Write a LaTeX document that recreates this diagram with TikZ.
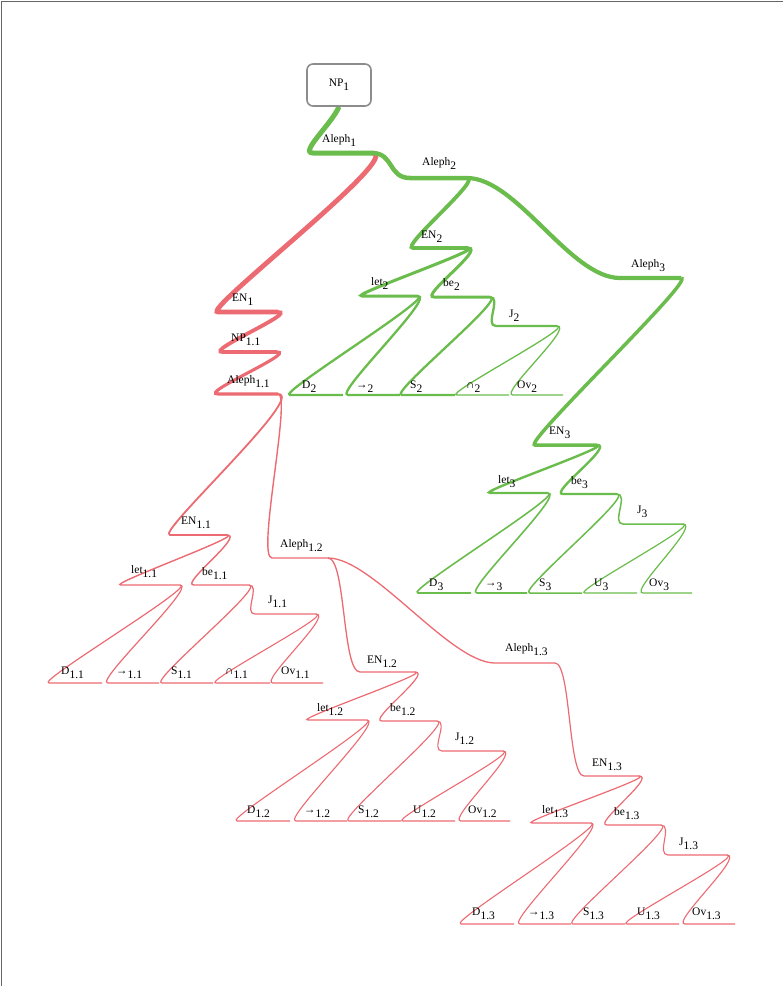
\documentclass[tikz,border=0pt]{standalone}
\usepackage{fontspec}
\setmainfont{Liberation Serif}
\usetikzlibrary{calc}
\pgfdeclarelayer{lines}
\pgfsetlayers{lines,main}
\definecolor{mgreen}{RGB}{106,188,76}
\definecolor{mred}{RGB}{236,106,114}
\definecolor{mframe}{RGB}{140,140,140}
\newcommand{\sbs}[1]{\raisebox{-4pt}{#1}}
\newcommand{\mnode}[7]{\coordinate (#1l) at (#2,#4);\coordinate (#1r) at (#3,#4);\node[lbl] (#1) at (#5,#6) {#7};}
\newcommand{\mlink}[5]{\draw[#1] (#2r) to[out=0,in=180,out distance=#4pt,in distance=#5pt] (#3l) -- (#3r);}
\begin{document}
\begin{tikzpicture}[x=1pt,y=-1pt,line cap=round,line join=round,
  lbl/.style={anchor=base west,inner sep=0pt,font=\fontsize{11.5}{13}\selectfont,text=black},
  gw/.style={draw=mgreen,line width=#1pt},
  rw/.style={draw=mred,line width=#1pt}]
\useasboundingbox (0,0) rectangle (783,986);
\draw[black!60,line width=1pt] (1.5,986) -- (1.5,1.5) -- (783,1.5);

% root
\node[draw=mframe,fill=white,line width=1.6pt,rounded corners=6pt,minimum width=64pt,minimum height=42pt,inner sep=0pt,font=\fontsize{11.5}{13}\selectfont,text=black] (np1) at (339,85) {NP\sbs{1}\hspace{14pt}};

% green nodes
\mnode{a1}{313}{372}{153}{322}{142}{Aleph\sbs{1}}
\mnode{a2}{410}{467}{178}{422}{165}{Aleph\sbs{2}}
\mnode{en2}{413}{468}{248}{421}{238}{EN\sbs{2}}
\mnode{a3}{620}{681}{278}{631}{267}{Aleph\sbs{3}}
\mnode{let2}{362}{418}{296}{371}{285}{let\sbs{2}}
\mnode{be2}{434}{490}{297}{443}{286}{be\sbs{2}}
\mnode{d2}{290}{343}{395}{302}{388}{D\sbs{2}}
\mnode{ar2}{348}{400}{395}{356}{388}{→\sbs{2}}
\mnode{s2}{402}{455}{395}{410}{388}{S\sbs{2}}
\mnode{j2}{496}{557}{326}{509}{317}{J\sbs{2}}
\mnode{ca2}{457}{509}{395}{466}{388}{∩\sbs{2}}
\mnode{ov2}{513}{563}{395}{517}{388}{Ov\sbs{2}}
\mnode{en3}{535}{597}{445}{549}{434}{EN\sbs{3}}
\mnode{let3}{490}{548}{493}{498}{483}{let\sbs{3}}
\mnode{be3}{563}{617}{494}{571}{484}{be\sbs{3}}
\mnode{j3}{623}{683}{524}{637}{513}{J\sbs{3}}
\mnode{d3}{418}{471}{593}{429}{586}{D\sbs{3}}
\mnode{ar3}{477}{527}{593}{485}{586}{→\sbs{3}}
\mnode{s3}{530}{582}{593}{539}{586}{S\sbs{3}}
\mnode{u3}{585}{637}{593}{594}{586}{U\sbs{3}}
\mnode{ov3}{643}{692}{593}{649}{586}{Ov\sbs{3}}

% red nodes
\mnode{en1}{218}{278}{312}{232}{301}{EN\sbs{1}}
\mnode{np11}{223}{277}{352}{231}{341}{NP\sbs{1.1}}
\mnode{a11}{218}{278}{394}{227}{383}{Aleph\sbs{1.1}}
\mnode{en11}{170}{227}{535}{181}{524}{EN\sbs{1.1}}
\mnode{a12}{272}{328}{558}{280}{547}{Aleph\sbs{1.2}}
\mnode{let11}{121}{180}{585}{131}{573}{let\sbs{1.1}}
\mnode{be11}{194}{249}{585}{202}{575}{be\sbs{1.1}}
\mnode{j11}{255}{316}{614}{268}{603}{J\sbs{1.1}}
\mnode{d11}{49}{102}{683}{61}{674}{D\sbs{1.1}}
\mnode{ar11}{108}{159}{683}{116}{674}{→\sbs{1.1}}
\mnode{s11}{162}{213}{683}{171}{674}{S\sbs{1.1}}
\mnode{ca11}{216}{270}{683}{225}{674}{∩\sbs{1.1}}
\mnode{ov11}{273}{323}{683}{281}{674}{Ov\sbs{1.1}}
\mnode{en12}{360}{415}{672}{367}{663}{EN\sbs{1.2}}
\mnode{let12}{308}{367}{720}{317}{711}{let\sbs{1.2}}
\mnode{be12}{382}{437}{721}{390}{711}{be\sbs{1.2}}
\mnode{j12}{442}{503}{751}{455}{740}{J\sbs{1.2}}
\mnode{d12}{237}{290}{821}{247}{813}{D\sbs{1.2}}
\mnode{ar12}{296}{347}{821}{304}{813}{→\sbs{1.2}}
\mnode{s12}{349}{401}{821}{358}{813}{S\sbs{1.2}}
\mnode{u12}{403}{455}{821}{413}{813}{U\sbs{1.2}}
\mnode{ov12}{461}{510}{821}{468}{813}{Ov\sbs{1.2}}
\mnode{a13}{495}{555}{663}{505}{651}{Aleph\sbs{1.3}}
\mnode{en13}{584}{639}{776}{592}{766}{EN\sbs{1.3}}
\mnode{let13}{532}{591}{823}{542}{813}{let\sbs{1.3}}
\mnode{be13}{607}{661}{825}{614}{815}{be\sbs{1.3}}
\mnode{j13}{668}{727}{855}{679}{845}{J\sbs{1.3}}
\mnode{d13}{461}{514}{924}{472}{915}{D\sbs{1.3}}
\mnode{ar13}{520}{571}{924}{528}{915}{→\sbs{1.3}}
\mnode{s13}{573}{625}{924}{583}{915}{S\sbs{1.3}}
\mnode{u13}{627}{679}{924}{637}{915}{U\sbs{1.3}}
\mnode{ov13}{685}{735}{924}{692}{915}{Ov\sbs{1.3}}

\begin{pgfonlayer}{lines}
% red connectors
\mlink{rw=4.8}{a1}{en1}{35}{18}
\mlink{rw=3.8}{en1}{np11}{20}{20}
\mlink{rw=3.1}{np11}{a11}{20}{20}
\mlink{rw=1.8}{a11}{en11}{30}{16}
\mlink{rw=1.4}{a11}{a12}{14}{16}
\mlink{rw=1.4}{en11}{let11}{18}{15}
\mlink{rw=1.4}{en11}{be11}{18}{15}
\mlink{rw=1.2}{let11}{d11}{18}{15}
\mlink{rw=1.2}{let11}{ar11}{18}{15}
\mlink{rw=1.2}{be11}{s11}{18}{15}
\mlink{rw=1.2}{be11}{j11}{12}{12}
\mlink{rw=1.1}{j11}{ca11}{18}{15}
\mlink{rw=1.1}{j11}{ov11}{18}{15}
\mlink{rw=1.3}{a12}{en12}{18}{18}
\mlink{rw=1.3}{a12}{a13}{45}{45}
\mlink{rw=1.2}{en12}{let12}{18}{15}
\mlink{rw=1.2}{en12}{be12}{18}{15}
\mlink{rw=1.1}{let12}{d12}{18}{15}
\mlink{rw=1.1}{let12}{ar12}{18}{15}
\mlink{rw=1.1}{be12}{s12}{18}{15}
\mlink{rw=1.1}{be12}{j12}{12}{12}
\mlink{rw=1.1}{j12}{u12}{18}{15}
\mlink{rw=1.1}{j12}{ov12}{18}{15}
\mlink{rw=1.2}{a13}{en13}{16}{16}
\mlink{rw=1.2}{en13}{let13}{18}{15}
\mlink{rw=1.2}{en13}{be13}{18}{15}
\mlink{rw=1.1}{let13}{d13}{18}{15}
\mlink{rw=1.1}{let13}{ar13}{18}{15}
\mlink{rw=1.1}{be13}{s13}{18}{15}
\mlink{rw=1.1}{be13}{j13}{12}{12}
\mlink{rw=1.1}{j13}{u13}{18}{15}
\mlink{rw=1.1}{j13}{ov13}{18}{15}

% green connectors
\draw[gw=5] (np1.south) .. controls ($(np1.south)+(-8,18)$) and ($(a1l)+(-14,0)$) .. (a1l) -- (a1r);
\mlink{gw=4.5}{a1}{a2}{22}{22}
\mlink{gw=3.8}{a2}{en2}{16}{14}
\mlink{gw=4.2}{a2}{a3}{50}{50}
\mlink{gw=3}{en2}{let2}{18}{15}
\mlink{gw=3}{en2}{be2}{18}{15}
\mlink{gw=2.3}{let2}{d2}{18}{15}
\mlink{gw=2.3}{let2}{ar2}{18}{15}
\mlink{gw=2.3}{be2}{s2}{18}{15}
\mlink{gw=2.3}{be2}{j2}{12}{12}
\mlink{gw=1.3}{j2}{ca2}{18}{15}
\mlink{gw=1.3}{j2}{ov2}{18}{15}
\mlink{gw=3.5}{a3}{en3}{16}{14}
\mlink{gw=2.4}{en3}{let3}{18}{15}
\mlink{gw=2.4}{en3}{be3}{18}{15}
\mlink{gw=1.6}{let3}{d3}{18}{15}
\mlink{gw=1.6}{let3}{ar3}{18}{15}
\mlink{gw=1.5}{be3}{s3}{18}{15}
\mlink{gw=1.5}{be3}{j3}{12}{12}
\mlink{gw=1.2}{j3}{u3}{18}{15}
\mlink{gw=1.2}{j3}{ov3}{18}{15}
\end{pgfonlayer}
\end{tikzpicture}
\end{document}
